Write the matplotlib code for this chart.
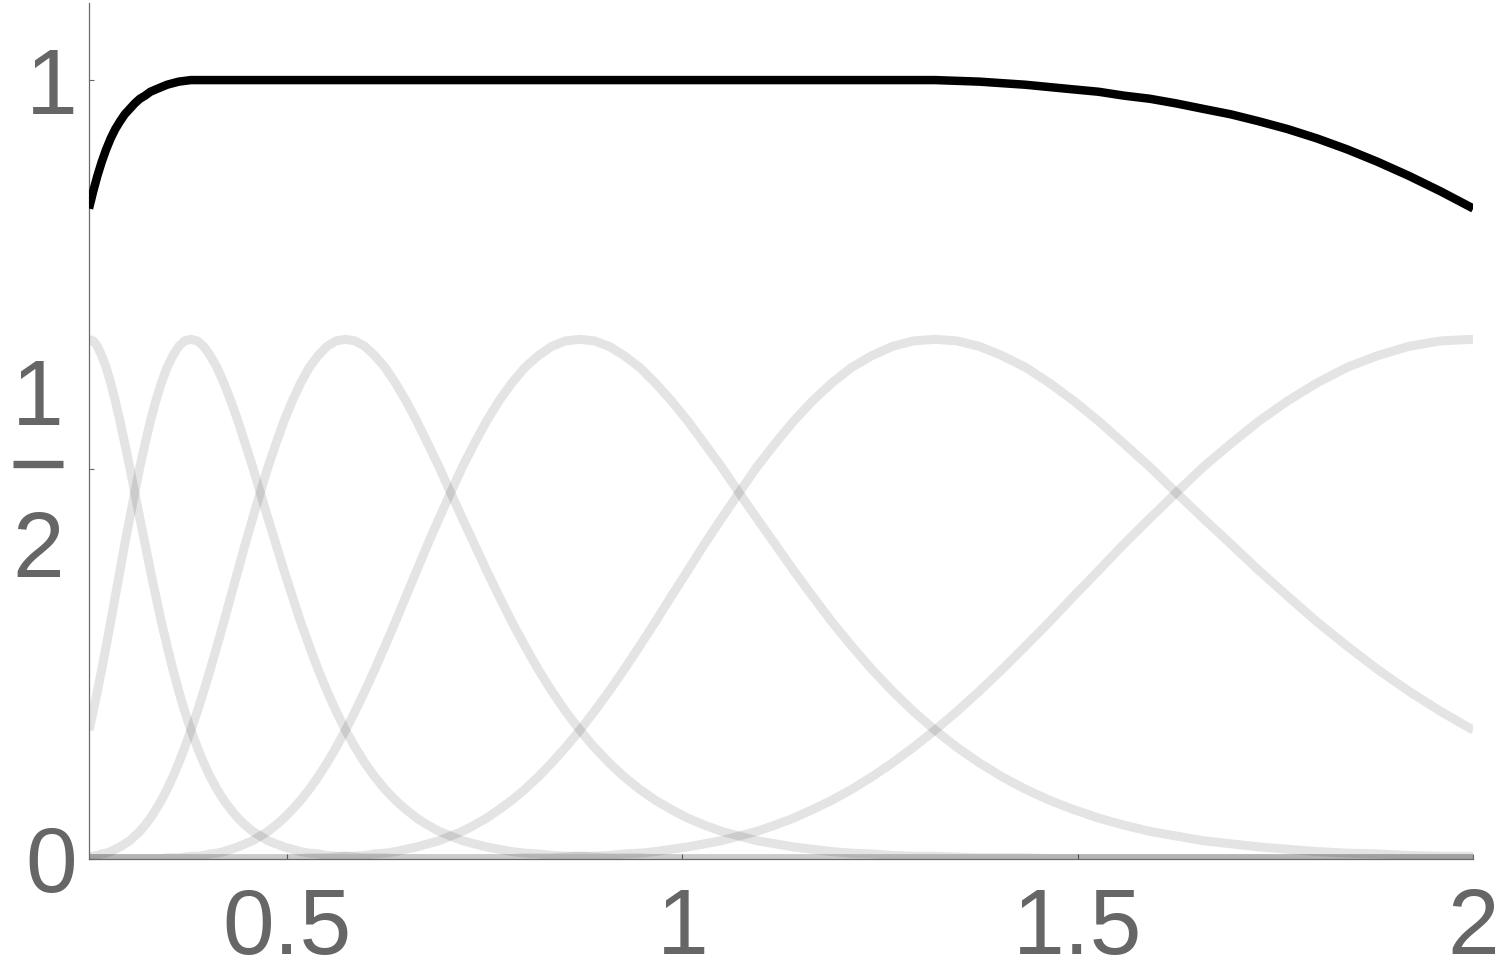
import matplotlib
matplotlib.use("Agg")
import matplotlib.pyplot as plt
from matplotlib import transforms
from matplotlib.lines import Line2D

# ---------------- data ----------------
x = [0.2500, 0.2553, 0.2606, 0.2661, 0.2717, 0.2774, 0.2832, 0.2892, 0.2952, 0.3015,
     0.3078, 0.3143, 0.3209, 0.3276, 0.3345, 0.3415, 0.3487, 0.3560, 0.3635, 0.3711,
     0.3789, 0.3869, 0.3950, 0.4033, 0.4118, 0.4204, 0.4293, 0.4383, 0.4475, 0.4569,
     0.4665, 0.4763, 0.4863, 0.4965, 0.5070, 0.5176, 0.5285, 0.5396, 0.5510, 0.5625,
     0.5743, 0.5864, 0.5987, 0.6113, 0.6242, 0.6373, 0.6507, 0.6643, 0.6783, 0.6926,
     0.7071, 0.7220, 0.7371, 0.7526, 0.7684, 0.7846, 0.8011, 0.8179, 0.8351, 0.8526,
     0.8706, 0.8888, 0.9075, 0.9266, 0.9461, 0.9659, 0.9862, 1.0070, 1.0281, 1.0497,
     1.0718, 1.0943, 1.1173, 1.1408, 1.1647, 1.1892, 1.2142, 1.2397, 1.2658, 1.2923,
     1.3195, 1.3472, 1.3755, 1.4044, 1.4340, 1.4641, 1.4948, 1.5263, 1.5583, 1.5911,
     1.6245, 1.6586, 1.6935, 1.7291, 1.7654, 1.8025, 1.8404, 1.8790, 1.9185, 1.9588,
     2.0000]

bump0 = [0.667, 0.665, 0.658, 0.646, 0.631, 0.611, 0.588, 0.562, 0.533, 0.503,
         0.470, 0.437, 0.404, 0.370, 0.337, 0.304, 0.273, 0.243, 0.215, 0.189,
         0.165, 0.143, 0.123, 0.105, 0.089, 0.075, 0.063, 0.052, 0.043, 0.035,
         0.029, 0.023, 0.019, 0.015, 0.012, 0.009, 0.007, 0.006, 0.004, 0.003,
         0.003, 0.002, 0.001, 0.001, 0.001, 0, 0, 0, 0, 0,
         0, 0, 0, 0, 0, 0, 0, 0, 0, 0,
         0, 0, 0, 0, 0, 0, 0, 0, 0, 0,
         0, 0, 0, 0, 0, 0, 0, 0, 0, 0,
         0, 0, 0, 0, 0, 0, 0, 0, 0, 0,
         0, 0, 0, 0, 0, 0, 0, 0, 0, 0,
         0]

bump1 = [0.165, 0.189, 0.215, 0.243, 0.273, 0.304, 0.337, 0.370, 0.404, 0.437,
         0.470, 0.503, 0.533, 0.562, 0.588, 0.611, 0.631, 0.646, 0.658, 0.665,
         0.667, 0.665, 0.658, 0.646, 0.631, 0.611, 0.588, 0.562, 0.533, 0.503,
         0.470, 0.437, 0.404, 0.370, 0.337, 0.304, 0.273, 0.243, 0.215, 0.189,
         0.165, 0.143, 0.123, 0.105, 0.089, 0.075, 0.063, 0.052, 0.043, 0.035,
         0.029, 0.023, 0.019, 0.015, 0.012, 0.009, 0.007, 0.006, 0.004, 0.003,
         0.003, 0.002, 0.001, 0.001, 0.001, 0, 0, 0, 0, 0,
         0, 0, 0, 0, 0, 0, 0, 0, 0, 0,
         0, 0, 0, 0, 0, 0, 0, 0, 0, 0,
         0, 0, 0, 0, 0, 0, 0, 0, 0, 0,
         0]

bump2 = [0.003, 0.003, 0.004, 0.006, 0.007, 0.009, 0.012, 0.015, 0.019, 0.023,
         0.029, 0.035, 0.043, 0.052, 0.063, 0.075, 0.089, 0.105, 0.123, 0.143,
         0.165, 0.189, 0.215, 0.243, 0.273, 0.304, 0.337, 0.370, 0.404, 0.437,
         0.470, 0.503, 0.533, 0.562, 0.588, 0.611, 0.631, 0.646, 0.658, 0.665,
         0.667, 0.665, 0.658, 0.646, 0.631, 0.611, 0.588, 0.562, 0.533, 0.503,
         0.470, 0.437, 0.404, 0.370, 0.337, 0.304, 0.273, 0.243, 0.215, 0.189,
         0.165, 0.143, 0.123, 0.105, 0.089, 0.075, 0.063, 0.052, 0.043, 0.035,
         0.029, 0.023, 0.019, 0.015, 0.012, 0.009, 0.007, 0.006, 0.004, 0.003,
         0.003, 0.002, 0.001, 0.001, 0.001, 0, 0, 0, 0, 0,
         0, 0, 0, 0, 0, 0, 0, 0, 0, 0,
         0]

bump3 = [0, 0, 0, 0, 0, 0, 0, 0, 0, 0,
         0, 0, 0, 0, 0, 0, 0.001, 0.001, 0.001, 0.002,
         0.003, 0.003, 0.004, 0.006, 0.007, 0.009, 0.012, 0.015, 0.019, 0.023,
         0.029, 0.035, 0.043, 0.052, 0.063, 0.075, 0.089, 0.105, 0.123, 0.143,
         0.165, 0.189, 0.215, 0.243, 0.273, 0.304, 0.337, 0.370, 0.404, 0.437,
         0.470, 0.503, 0.533, 0.562, 0.588, 0.611, 0.631, 0.646, 0.658, 0.665,
         0.667, 0.665, 0.658, 0.646, 0.631, 0.611, 0.588, 0.562, 0.533, 0.503,
         0.470, 0.437, 0.404, 0.370, 0.337, 0.304, 0.273, 0.243, 0.215, 0.189,
         0.165, 0.143, 0.123, 0.105, 0.089, 0.075, 0.063, 0.052, 0.043, 0.035,
         0.029, 0.023, 0.019, 0.015, 0.012, 0.009, 0.007, 0.006, 0.004, 0.003,
         0.003]

bump4 = [0, 0, 0, 0, 0, 0, 0, 0, 0, 0,
         0, 0, 0, 0, 0, 0, 0, 0, 0, 0,
         0, 0, 0, 0, 0, 0, 0, 0, 0, 0,
         0, 0, 0, 0, 0, 0, 0.001, 0.001, 0.001, 0.002,
         0.003, 0.003, 0.004, 0.006, 0.007, 0.009, 0.012, 0.015, 0.019, 0.023,
         0.029, 0.035, 0.043, 0.052, 0.063, 0.075, 0.089, 0.105, 0.123, 0.143,
         0.165, 0.189, 0.215, 0.243, 0.273, 0.304, 0.337, 0.370, 0.404, 0.437,
         0.470, 0.503, 0.533, 0.562, 0.588, 0.611, 0.631, 0.646, 0.658, 0.665,
         0.667, 0.665, 0.658, 0.646, 0.631, 0.611, 0.588, 0.562, 0.533, 0.503,
         0.470, 0.437, 0.404, 0.370, 0.337, 0.304, 0.273, 0.243, 0.215, 0.189,
         0.165]

bump5 = [0, 0, 0, 0, 0, 0, 0, 0, 0, 0,
         0, 0, 0, 0, 0, 0, 0, 0, 0, 0,
         0, 0, 0, 0, 0, 0, 0, 0, 0, 0,
         0, 0, 0, 0, 0, 0, 0, 0, 0, 0,
         0, 0, 0, 0, 0, 0, 0, 0, 0, 0,
         0, 0, 0, 0, 0, 0, 0.001, 0.001, 0.001, 0.002,
         0.003, 0.003, 0.004, 0.006, 0.007, 0.009, 0.012, 0.015, 0.019, 0.023,
         0.029, 0.035, 0.043, 0.052, 0.063, 0.075, 0.089, 0.105, 0.123, 0.143,
         0.165, 0.189, 0.215, 0.243, 0.273, 0.304, 0.337, 0.370, 0.404, 0.437,
         0.470, 0.503, 0.533, 0.562, 0.588, 0.611, 0.631, 0.646, 0.658, 0.665,
         0.667]

total = [0.835, 0.857, 0.877, 0.895, 0.911, 0.925, 0.937, 0.947, 0.956, 0.963,
         0.970, 0.976, 0.980, 0.985, 0.988, 0.991, 0.994, 0.996, 0.998, 0.999,
         1.000, 1.000, 1.000, 1.000, 1.000, 1.000, 1.000, 1.000, 1.000, 1.000,
         1.000, 1.000, 1.000, 1.000, 1.000, 1.000, 1.000, 1.000, 1.000, 1.000,
         1.000, 1.000, 1.000, 1.000, 1.000, 1.000, 1.000, 1.000, 1.000, 1.000,
         1.000, 1.000, 1.000, 1.000, 1.000, 1.000, 1.000, 1.000, 1.000, 1.000,
         1.000, 1.000, 1.000, 1.000, 1.000, 1.000, 1.000, 1.000, 1.000, 1.000,
         1.000, 1.000, 1.000, 1.000, 1.000, 1.000, 1.000, 1.000, 1.000, 1.000,
         1.000, 0.999, 0.998, 0.996, 0.994, 0.991, 0.988, 0.985, 0.980, 0.976,
         0.970, 0.963, 0.956, 0.947, 0.937, 0.925, 0.911, 0.895, 0.877, 0.857,
         0.835]

xtick_vals = [0.5, 1.0, 1.5, 2.0]
xtick_labels = ["0.5", "1", "1.5", "2"]
ytick_vals = [0.0, 0.5, 1.0]
ytick_labels = ["0", "", "1"]
frac_num, frac_den = "1", "2"

# ---------------- drawing ----------------
plt.rcParams["font.family"] = ["Liberation Sans", "DejaVu Sans"]
LABEL = "#666666"
AXC = "#6a6a6a"
FS = 67

fig = plt.figure(figsize=(15, 9.75), dpi=100)
W, H = 1500.0, 975.0
x0p, x1p, y0p, y1p = 89.0, 1473.3, 858.6, 3.0
ax = fig.add_axes([x0p / W, 1 - y0p / H, (x1p - x0p) / W, (y0p - y1p) / H])

for ys in [bump0, bump1, bump2, bump3, bump4, bump5]:
    ax.plot(x, ys, color="black", alpha=0.105, lw=6.5,
            solid_capstyle="butt", solid_joinstyle="round", zorder=2)
ax.plot(x, total, color="black", lw=6.1,
        solid_capstyle="butt", solid_joinstyle="round", zorder=3)

ax.set_xlim(0.25, 2.0)
ax.set_ylim(0.0, 1.099)

for s in ["top", "right"]:
    ax.spines[s].set_visible(False)
for s in ["left", "bottom"]:
    ax.spines[s].set_color(AXC)
    ax.spines[s].set_linewidth(0.9)

ax.set_xticks(xtick_vals)
ax.set_xticklabels(xtick_labels)
ax.set_yticks(ytick_vals)
ax.set_yticklabels(ytick_labels)
ax.tick_params(direction="in", length=3.5, width=0.8, color=AXC,
               labelsize=FS, labelcolor=LABEL)
ax.tick_params(axis="x", pad=20.5)
ax.tick_params(axis="y", pad=8.3)

# stacked fraction 1/2 as the label of the middle y tick
tr = transforms.blended_transform_factory(fig.transFigure, ax.transData)
ax.text(37.7 / W, 0.5569, frac_num, transform=tr, ha="center", va="baseline",
        fontsize=FS, color=LABEL)
ax.text(37.7 / W, 0.3621, frac_den, transform=tr, ha="center", va="baseline",
        fontsize=FS, color=LABEL)
fig.add_artist(Line2D([12.7 / W, 63.3 / W], [0.5072, 0.5072], transform=tr,
                      color=LABEL, lw=5.3, solid_capstyle="butt"))

fig.savefig("out.png", dpi=100, facecolor="white")
